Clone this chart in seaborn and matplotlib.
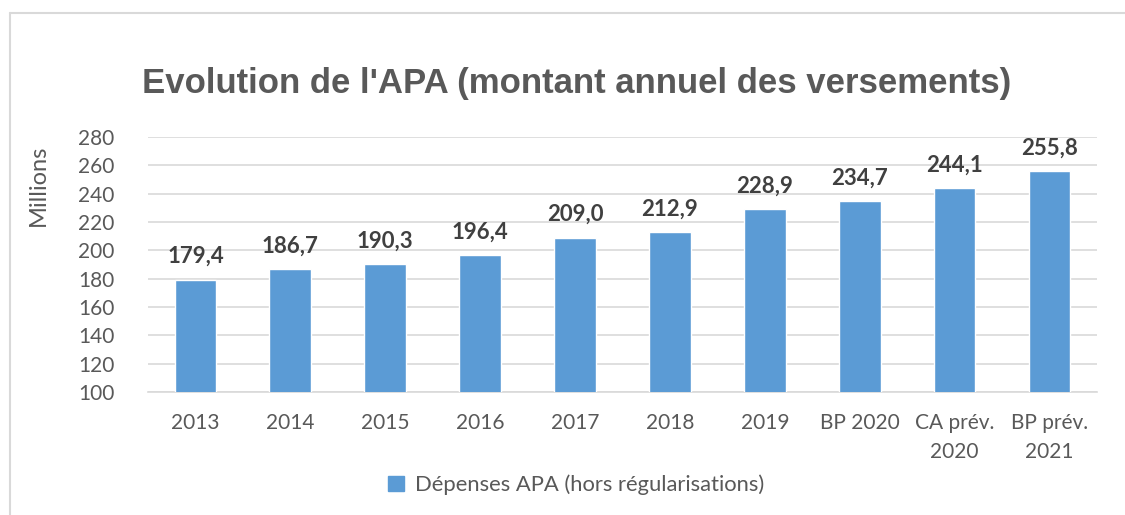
"""
Evolution de l'APA - bar chart with seaborn
"""

import pandas as pd
import seaborn as sns
import matplotlib.pyplot as plt
from matplotlib.lines import Line2D
from matplotlib.patches import Patch

# Donnees
categories = ['2013', '2014', '2015', '2016', '2017', '2018', '2019',
              'BP 2020', 'CA prév.\n2020', 'BP prév.\n2021']
montants = [179.4, 186.7, 190.3, 196.4, 209.0, 212.9, 228.9, 234.7, 244.1, 255.8]
y_ticks = [100, 120, 140, 160, 180, 200, 220, 240, 260, 280]
serie = 'Dépenses APA (hors régularisations)'

df = pd.DataFrame({'categorie': categories, 'montant': montants})

sns.set_theme(style='white')
plt.rcParams['font.family'] = ['Lato', 'DejaVu Sans']

bleu = '#5B9BD5'
gris_txt = '#595959'

fig = plt.figure(figsize=(11.25, 5.15), dpi=100)
ax = fig.add_axes([0.1316, 0.2388, 0.8434, 0.4952])

sns.barplot(data=df, x='categorie', y='montant', color=bleu, width=0.44,
            saturation=1, ax=ax, zorder=3)

ax.set_ylim(100, 280)
ax.set_yticks(y_ticks)
ax.set_yticklabels([str(t) for t in y_ticks])
ax.yaxis.grid(True, color='#D9D9D9', linewidth=1.2, zorder=0)
ax.set_axisbelow(True)
for s in ['top', 'right', 'left']:
    ax.spines[s].set_visible(False)
ax.spines['bottom'].set_color('#D9D9D9')
ax.spines['bottom'].set_linewidth(1.2)
ax.tick_params(axis='both', length=0, labelsize=15, colors=gris_txt)
ax.tick_params(axis='x', pad=15)
ax.tick_params(axis='y', pad=24)
for lbl in ax.get_xticklabels():
    lbl.set_linespacing(1.55)
ax.set_xlabel('')
ax.set_ylabel('Millions', fontsize=17, color=gris_txt)
ax.yaxis.set_label_coords(-0.105, 0.81)

# Etiquettes de donnees
labels = [f'{v:.1f}'.replace('.', ',') for v in montants]
ax.bar_label(ax.containers[0], labels=labels, padding=9, fontsize=16,
             fontweight='bold', color='#404040')

fig.suptitle("Evolution de l'APA (montant annuel des versements)",
             x=0.513, y=0.87, fontsize=25, fontweight='bold',
             color=gris_txt, family=['Liberation Sans', 'DejaVu Sans'])

handles = [Patch(facecolor=bleu, edgecolor=bleu, label=serie)]
fig.legend(handles=handles, loc='center', bbox_to_anchor=(0.512, 0.058),
           frameon=False, fontsize=15.8, handlelength=0.7, handleheight=0.7,
           handletextpad=0.5, labelcolor=gris_txt)

# cadre du graphique (haut et gauche visibles)
fig.add_artist(Line2D([0.009, 1.0], [0.975, 0.975], color='#D9D9D9', linewidth=1.5))
fig.add_artist(Line2D([0.009, 0.009], [0.0, 0.975], color='#D9D9D9', linewidth=1.5))

fig.savefig('out.png', dpi=100)
